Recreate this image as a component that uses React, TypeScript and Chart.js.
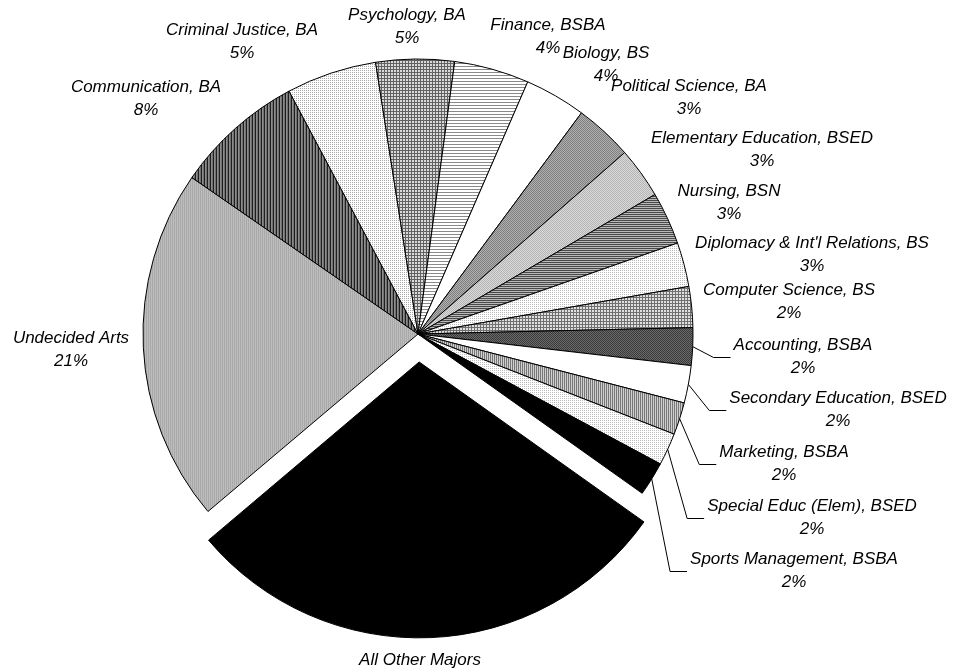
import React, { useEffect, useRef } from "react";
import { Chart, registerables } from "chart.js";

Chart.register(...registerables);

// ---- data (share of students, %) ----
const CATEGORIES: string[] = [
  "Undecided Arts",
  "Communication, BA",
  "Criminal Justice, BA",
  "Psychology, BA",
  "Finance, BSBA",
  "Biology, BS",
  "Political Science, BA",
  "Elementary Education, BSED",
  "Nursing, BSN",
  "Diplomacy & Int'l Relations, BS",
  "Computer Science, BS",
  "Accounting, BSBA",
  "Secondary Education, BSED",
  "Marketing, BSBA",
  "Special Educ (Elem), BSED",
  "Sports Management, BSBA",
  "All Other Majors",
];

const SHARES: number[] = [
  20.8, 7.6, 5.3, 4.6, 4.4, 3.6, 3.4, 3.0, 3.1, 2.6, 2.4, 2.2, 2.2, 1.9, 1.9, 2.0, 29.0,
];

const EXPLODED_CATEGORY = "All Other Majors";

// ---- layout / style (not data) ----
const CANVAS_W = 953;
const CANVAS_H = 670;
const PIE_RADIUS = 275;
const START_ROTATION = 229.8;
const EXPLODE_PX = 28;
const FONT = "italic 17px 'Liberation Sans', Arial, sans-serif";
const LINE_GAP = 23;

// label block centre, relative to pie centre
const LABEL_OFFSETS: [number, number][] = [
  [-347, 16],
  [-272, -235],
  [-176, -292],
  [-11, -307],
  [130, -297],
  [188, -269],
  [271, -236],
  [344, -184],
  [311, -131],
  [394, -79],
  [371, -32],
  [385, 23],
  [420, 76],
  [366, 130],
  [394, 184],
  [376, 237],
  [2, 338],
];

const LEADER_LABELS = new Set<string>([
  "Accounting, BSBA",
  "Secondary Education, BSED",
  "Marketing, BSBA",
  "Special Educ (Elem), BSED",
  "Sports Management, BSBA",
]);

type PatternSpec = { w: number; h: number; px: (x: number, y: number) => string };

const checker = (a: string, b: string): PatternSpec => ({
  w: 2,
  h: 2,
  px: (x, y) => ((x + y) % 2 === 0 ? a : b),
});
const vstripes = (cols: string[]): PatternSpec => ({ w: cols.length, h: 1, px: (x) => cols[x] });
const hstripes = (rows: string[]): PatternSpec => ({ w: 1, h: rows.length, px: (_x, y) => rows[y] });
const grid = (line: string, bg: string): PatternSpec => ({
  w: 3,
  h: 3,
  px: (x, y) => (x === 0 || y === 0 ? line : bg),
});
const dots = (dot: string): PatternSpec => ({
  w: 2,
  h: 2,
  px: (x, y) => (x === 0 && y === 0 ? dot : "#ffffff"),
});
const solid = (c: string): PatternSpec => ({ w: 1, h: 1, px: () => c });

const FILL_SPECS: PatternSpec[] = [
  vstripes(["#a9a9a9", "#bdbdbd"]), // Undecided
  vstripes(["#1e1e1e", "#8c8c8c", "#707070"]), // Communication
  dots("#a8a8a8"), // Criminal Justice
  grid("#626262", "#dadada"), // Psychology
  hstripes(["#8a8a8a", "#ffffff", "#ffffff"]), // Finance
  solid("#ffffff"), // Biology
  checker("#7f7f7f", "#b0b0b0"), // Political Science
  checker("#b4b4b4", "#dadada"), // Elementary Ed
  hstripes(["#4a4a4a", "#b8b8b8"]), // Nursing
  dots("#b8b8b8"), // Diplomacy
  grid("#707070", "#e0e0e0"), // Computer Science
  checker("#3a3a3a", "#6a6a6a"), // Accounting
  solid("#ffffff"), // Secondary Ed
  vstripes(["#777777", "#d0d0d0"]), // Marketing
  dots("#bcbcbc"), // Special Educ
  solid("#000000"), // Sports Mgmt
  solid("#000000"), // All Other
];

function makeFill(spec: PatternSpec): CanvasPattern | string {
  const c = document.createElement("canvas");
  c.width = spec.w;
  c.height = spec.h;
  const g = c.getContext("2d");
  if (!g) return spec.px(0, 0);
  for (let y = 0; y < spec.h; y++) {
    for (let x = 0; x < spec.w; x++) {
      g.fillStyle = spec.px(x, y);
      g.fillRect(x, y, 1, 1);
    }
  }
  const p = g.createPattern(c, "repeat");
  return p || spec.px(0, 0);
}

const labelPlugin = {
  id: "pieLabels",
  afterDatasetsDraw(chart: any) {
    const ctx: CanvasRenderingContext2D = chart.ctx;
    const meta = chart.getDatasetMeta(0);
    const total = SHARES.reduce((a, b) => a + b, 0);
    ctx.save();
    ctx.font = FONT;
    ctx.fillStyle = "#000";
    ctx.textAlign = "center";
    ctx.textBaseline = "middle";
    meta.data.forEach((arc: any, i: number) => {
      const { x, y, startAngle, endAngle, outerRadius } = arc.getProps(
        ["x", "y", "startAngle", "endAngle", "outerRadius"],
        true
      );
      const name = CATEGORIES[i];
      const pct = Math.round((SHARES[i] / total) * 100) + "%";
      const [dx, dy] = LABEL_OFFSETS[i];
      const cx = x + dx;
      const cy = y + dy;
      ctx.fillText(name, cx, cy - LINE_GAP / 2);
      ctx.fillText(pct, cx, cy + LINE_GAP / 2);
      if (LEADER_LABELS.has(name)) {
        const mid = (startAngle + endAngle) / 2;
        const px = x + Math.cos(mid) * outerRadius;
        const py = y + Math.sin(mid) * outerRadius;
        const left = cx - ctx.measureText(name).width / 2;
        const hx1 = left - 3;
        const hx0 = hx1 - 17;
        const ly = Math.round(cy) + 0.5;
        ctx.beginPath();
        ctx.strokeStyle = "#000";
        ctx.lineWidth = 1;
        ctx.moveTo(px, py);
        ctx.lineTo(hx0, ly);
        ctx.lineTo(hx1, ly);
        ctx.stroke();
      }
    });
    ctx.restore();
  },
};

export default function App() {
  const ref = useRef<HTMLCanvasElement | null>(null);
  useEffect(() => {
    if (!ref.current) return;
    const fills = FILL_SPECS.map(makeFill);
    const chart = new Chart(ref.current, {
      type: "pie",
      data: {
        labels: CATEGORIES,
        datasets: [
          {
            data: SHARES,
            backgroundColor: fills as any,
            borderColor: "#000000",
            borderWidth: 1,
            // Chart.js translates an arc by offset/4
            offset: CATEGORIES.map((c) => (c === EXPLODED_CATEGORY ? EXPLODE_PX * 4 : 0)),
          } as any,
        ],
      },
      options: {
        responsive: false,
        animation: false,
        events: [],
        rotation: START_ROTATION,
        radius: PIE_RADIUS,
        layout: { padding: { left: 0, right: 117, top: 0, bottom: 2 } },
        plugins: {
          legend: { display: false },
          tooltip: { enabled: false },
        },
      } as any,
      plugins: [labelPlugin],
    });
    return () => chart.destroy();
  }, []);
  return (
    <div style={{ position: "absolute", left: 0, top: 0, width: CANVAS_W, height: CANVAS_H, background: "#fff" }}>
      <canvas ref={ref} width={CANVAS_W} height={CANVAS_H} style={{ display: "block" }} />
    </div>
  );
}
